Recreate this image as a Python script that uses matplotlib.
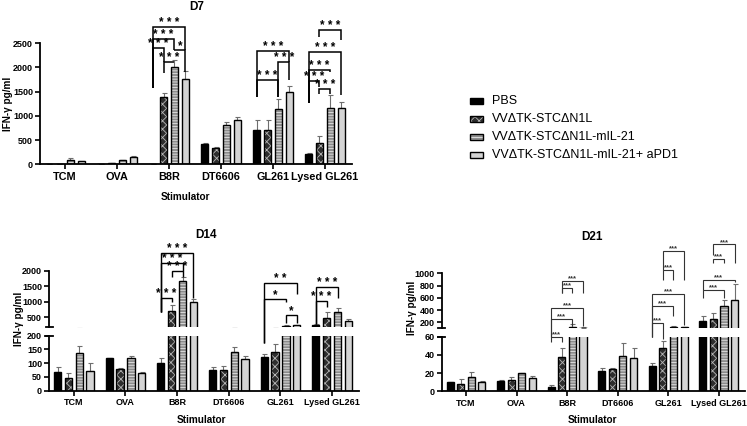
import numpy as np
import matplotlib.pyplot as plt
from matplotlib.lines import Line2D
from matplotlib.patches import Rectangle

plt.rcParams['font.family'] = ['Liberation Sans', 'DejaVu Sans']
plt.rcParams['hatch.linewidth'] = 0.6

stimuli = ['TCM', 'OVA', 'B8R', 'DT6606', 'GL261', 'Lysed GL261']
groups = ['PBS', 'VVΔTK-STCΔN1L', 'VVΔTK-STCΔN1L-mIL-21', 'VVΔTK-STCΔN1L-mIL-21+ aPD1']

# mean and SEM, one row per group (PBS, VV, VV-mIL-21, VV-mIL-21+aPD1)
d7_mean = [[5, 5, 8, 420, 700, 220],
           [10, 20, 1390, 345, 700, 450],
           [80, 85, 2020, 820, 1150, 1160],
           [60, 160, 1770, 920, 1490, 1160]]
d7_sem = [[0, 0, 0, 20, 210, 15],
          [5, 5, 80, 10, 210, 135],
          [45, 10, 130, 50, 190, 270],
          [10, 10, 150, 50, 120, 120]]

d14_mean = [[68, 120, 100, 75, 122, 245],
            [45, 79, 710, 77, 142, 490],
            [136, 118, 1668, 140, 215, 682],
            [72, 65, 993, 114, 240, 380]]
d14_sem = [[20, 0, 18, 11, 11, 25],
           [20, 5, 185, 13, 28, 190],
           [27, 8, 118, 19, 40, 108],
           [28, 2, 86, 12, 8, 70]]

d21_mean = [[9.9, 11.7, 5, 22.3, 27.8, 222],
            [8.4, 12.8, 38, 24.9, 47.9, 249],
            [15.4, 20, 130, 38.8, 118, 467],
            [9.9, 15, 113, 36.6, 118, 565]]
d21_sem = [[0.5, 1.1, 1.6, 2.9, 2.9, 81],
           [4.6, 2.9, 10, 0.5, 6.9, 109],
           [5.6, 0.5, 50, 14.6, 28, 98],
           [1.8, 2.2, 5, 11, 5, 265]]

# significance: (stimulus, bar a, bar b, line height, leg a end, leg b end, label)
d7_sig = [(2, 0, 3, 2844, 1570, 2362, '***'),
          (2, 0, 2, 2583, 1570, 2362, '***'),
          (2, 0, 1, 2397, 1570, 2121, '***'),
          (2, 2, 3, 2362, 2362, 1915, '*'),
          (2, 1, 2, 2121, 1880, 2121, '***'),
          (4, 0, 3, 2342, 1398, 2121, '***'),
          (4, 2, 3, 2121, 1398, 1742, '***'),
          (4, 0, 2, 1742, 1398, 1398, '***'),
          (5, 1, 3, 2775, 2624, 2569, '***'),
          (5, 0, 3, 2314, 1260, 1432, '***'),
          (5, 0, 2, 1949, 1260, 1900, '***'),
          (5, 0, 1, 1728, 1260, 1600, '***'),
          (5, 1, 2, 1550, 1450, 1450, '***')]

d14_sig = [(2, 0, 3, 2558, 680, 1110, '***'),
           (2, 0, 2, 2258, 680, 2000, '***'),
           (2, 1, 2, 2000, 1808, 1808, '***'),
           (2, 0, 1, 1110, 680, 1000, '***'),
           (4, 0, 3, 1615, 172, 1250, '**'),
           (4, 0, 2, 1089, 172, 1004, '*'),
           (4, 2, 3, 575, 300, 300, '*'),
           (5, 0, 2, 1486, 286, 1110, '***'),
           (5, 0, 1, 1025, 286, 820, '***')]

d21_sig = [(2, 1, 3, 880, 673, 673, '***'),
           (2, 1, 2, 760, 673, 673, '***'),
           (2, 0, 3, 440, 60, 135, '***'),
           (2, 0, 2, 250, 60, 140, '***'),
           (2, 0, 1, 60.5, 54, 54, '***'),
           (4, 1, 3, 1365, 1054, 891, '***'),
           (4, 1, 2, 1054, 891, 891, '***'),
           (4, 0, 3, 663, 60, 160, '***'),
           (4, 0, 2, 467, 60, 300, '***'),
           (4, 0, 1, 195, 60, 58, '***'),
           (5, 1, 3, 1473, 1300, 1174, '***'),
           (5, 1, 2, 1234, 1174, 1174, '***'),
           (5, 0, 3, 891, 728, 850, '***'),
           (5, 0, 2, 728, 600, 600, '***')]

W, H = 747, 426
fig = plt.figure(figsize=(W / 100, H / 100), dpi=100)
inv = fig.transFigure.inverted()

styles = [dict(fc='black', hatch=None, hc=None),
          dict(fc='#2e2e2e', hatch='xxxx', hc='#b8b8b8'),
          dict(fc='#8c8c8c', hatch='------', hc='#e6e6e6'),
          dict(fc='#d4d4d4', hatch=None, hc=None)]
offsets = [-0.315, -0.105, 0.105, 0.315]
bw = 0.14
x = np.arange(len(stimuli))


def box(x0, y0, x1, y1):
    return [x0 / W, 1 - y1 / H, (x1 - x0) / W, (y1 - y0) / H]


def fpt(px, py):
    # pixel (top-left origin) -> figure fraction
    return px / W, 1 - py / H


def draw_bars(ax, mean, sem):
    for k in range(4):
        st = styles[k]
        xs = x + offsets[k]
        ax.errorbar(xs, mean[k], yerr=[np.zeros(6), sem[k]], fmt='none', ecolor='#6e6e6e',
                    elinewidth=0.8, capsize=1.8, capthick=0.8, zorder=1)
        if st['hatch']:
            ax.bar(xs, mean[k], bw, color=st['fc'], edgecolor=st['hc'], hatch=st['hatch'],
                   linewidth=0, zorder=2)
            ax.bar(xs, mean[k], bw, fill=False, edgecolor='black', linewidth=1.0, zorder=3)
        else:
            ax.bar(xs, mean[k], bw, color=st['fc'], edgecolor='black', linewidth=1.0, zorder=2)


def style_axis(ax, ylim, ticks, show_x, xfs=6.5, yfs=6.5):
    ax.set_xlim(-0.48, 5.52)
    ax.set_ylim(*ylim)
    ax.set_yticks(ticks)
    ax.spines[['top', 'right']].set_visible(False)
    ax.spines['left'].set_linewidth(1.3)
    ax.tick_params(axis='y', length=3.5, width=1.2, labelsize=yfs, pad=1.5)
    for t in ax.get_yticklabels():
        t.set_fontweight('bold')
    if show_x:
        ax.spines['bottom'].set_linewidth(1.3)
        ax.set_xticks(x, stimuli, fontweight='bold')
        ax.tick_params(axis='x', length=3.5, width=1.2, labelsize=xfs, pad=2)
    else:
        ax.spines['bottom'].set_visible(False)
        ax.set_xticks([])
    ax.patch.set_alpha(0)


def to_disp(pair, xv, v):
    low, high = pair
    lo_top = low.get_ylim()[1]
    if high is None or v <= lo_top:
        return low.transData.transform((xv, v))
    hi_bot = high.get_ylim()[0]
    if v >= hi_bot:
        return high.transData.transform((xv, v))
    p0 = low.transData.transform((xv, lo_top))
    p1 = high.transData.transform((xv, hi_bot))
    t = (v - lo_top) / (hi_bot - lo_top)
    return p0 + t * (p1 - p0)


def brackets(pair, sig, lw, fs, dy, color, spaced):
    for s, a, b, top, la, lb, label in sig:
        xa, xb = s + offsets[a], s + offsets[b]
        pts = np.array([to_disp(pair, xa, la), to_disp(pair, xa, top),
                        to_disp(pair, xb, top), to_disp(pair, xb, lb)])
        pts = inv.transform(pts)
        fig.add_artist(Line2D(pts[:, 0], pts[:, 1], color=color, lw=lw,
                              solid_joinstyle='miter', solid_capstyle='butt'))
        mid = to_disp(pair, (xa + xb) / 2, top)
        tx, ty = inv.transform((mid[0], mid[1] + dy))
        txt = ' '.join(label) if spaced else label
        fig.text(tx, ty, txt, ha='center', va='baseline', fontsize=fs,
                 fontweight='bold', color=color)


def break_caps(low, high):
    for ax, yv in [(low, low.get_ylim()[1]), (high, high.get_ylim()[0])]:
        px, py = ax.transData.transform((ax.get_xlim()[0], yv))
        pts = inv.transform(np.array([[px - 3.5, py], [px + 3.5, py]]))
        fig.add_artist(Line2D(pts[:, 0], pts[:, 1], color='black', lw=1.3))


# D7
ax7 = fig.add_axes(box(40, 43.3, 352, 164.3))
draw_bars(ax7, d7_mean, d7_sem)
style_axis(ax7, (0, 2500), [0, 500, 1000, 1500, 2000, 2500], True, xfs=7.8)
brackets((ax7, None), d7_sig, 1.1, 8.5, 1, 'black', True)

# D14
ax14b = fig.add_axes(box(49, 335.7, 359, 390.7))
ax14t = fig.add_axes(box(49, 270.7, 359, 326.6))
for ax in (ax14b, ax14t):
    draw_bars(ax, d14_mean, d14_sem)
style_axis(ax14b, (0, 200), [0, 50, 100, 150, 200], True)
style_axis(ax14t, (200, 2000), [500, 1000, 1500, 2000], False)
break_caps(ax14b, ax14t)
brackets((ax14b, ax14t), d14_sig, 1.0, 8.5, 1, 'black', True)

# D21
ax21b = fig.add_axes(box(441.7, 336.7, 745, 391.3))
ax21t = fig.add_axes(box(441.7, 273.3, 745, 328.4))
for ax in (ax21b, ax21t):
    draw_bars(ax, d21_mean, d21_sem)
style_axis(ax21b, (0, 60), [0, 20, 40, 60], True)
style_axis(ax21t, (100, 1000), [200, 400, 600, 800, 1000], False)
break_caps(ax21b, ax21t)
brackets((ax21b, ax21t), d21_sig, 0.8, 5.5, 0.5, '#333333', False)

# titles and axis labels
for (px, py), s in [((197, 7), 'D7'), ((206, 235), 'D14'), ((592, 237), 'D21')]:
    fig.text(*fpt(px, py), s, ha='center', va='center', fontsize=8.5, fontweight='bold')
for (px, py) in [(8.5, 104), (19.5, 319), (412, 308)]:
    fig.text(*fpt(px, py), 'IFN-γ pg/ml', ha='center', va='center', rotation=90,
             fontsize=7.2, fontweight='bold')
for (px, py) in [(185, 197), (201, 420), (592, 420)]:
    fig.text(*fpt(px, py), 'Stimulator', ha='center', va='center', fontsize=7.2, fontweight='bold')

# legend
for k, name in enumerate(groups):
    cy = 100.5 + 18 * k
    st = styles[k]
    x0, y0 = fpt(469.5, cy + 3)
    w, h = 13.5 / W, 6 / H
    if st['hatch']:
        fig.add_artist(Rectangle((x0, y0), w, h, facecolor=st['fc'], edgecolor=st['hc'],
                                 hatch=st['hatch'], linewidth=0, transform=fig.transFigure))
        fig.add_artist(Rectangle((x0, y0), w, h, fill=False, edgecolor='black',
                                 linewidth=1.0, transform=fig.transFigure))
    else:
        fig.add_artist(Rectangle((x0, y0), w, h, facecolor=st['fc'], edgecolor='black',
                                 linewidth=1.0, transform=fig.transFigure))
    fig.text(*fpt(492, cy), name, ha='left', va='center', fontsize=9)

fig.savefig('out.png', dpi=100)
